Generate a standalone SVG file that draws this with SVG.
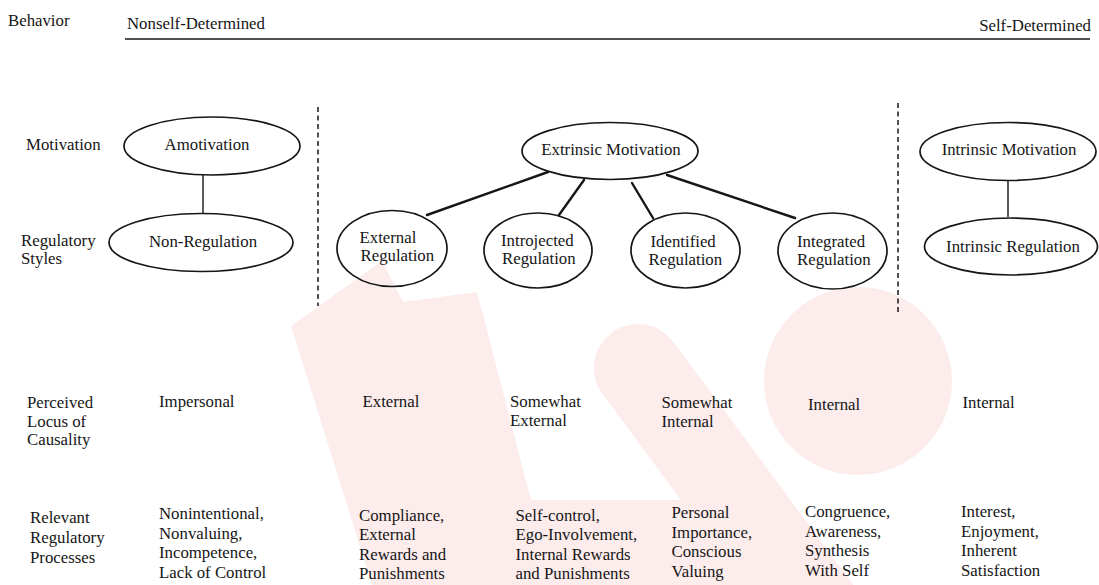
<svg xmlns="http://www.w3.org/2000/svg" width="1099" height="585" viewBox="0 0 1099 585" font-family="Liberation Serif, DejaVu Serif, serif">
  <style>
    text { font-family: 'Liberation Serif', 'DejaVu Serif', serif; font-size: 16.8px; fill: #161616; }
    .c { text-anchor: middle; }
    .e { text-anchor: end; }
    .node ellipse { fill: none; stroke: #161616; stroke-width: 1.7; }
    .stem { stroke: #161616; stroke-width: 1.4; }
    .branch { stroke: #161616; stroke-width: 2.4; stroke-linecap: round; }
    .divider { stroke: #161616; stroke-width: 1.5; stroke-dasharray: 5 3.5; }
    .axis { stroke: #161616; stroke-width: 1.6; }
    .wm { fill: #fdecec; }
  </style>

  <rect width="1099" height="585" fill="#ffffff"/>

  <!-- faint background mark -->
  <g id="backdrop">
    <path class="wm" d="M291,326 L382,261 L403,302 L477,292 L531,500 L705,500 L760,585 L372,585 Z"/>
    <line x1="638" y1="368" x2="823" y2="618" stroke="#fdecec" stroke-width="88" stroke-linecap="round"/>
    <circle class="wm" cx="858" cy="381" r="94"/>
  </g>

  <!-- header: behaviour continuum -->
  <g id="header">
    <text x="8" y="26">Behavior</text>
    <text x="127" y="29">Nonself-Determined</text>
    <text class="e" x="1091" y="30.5">Self-Determined</text>
    <line class="axis" x1="125" y1="39" x2="1090" y2="39"/>
  </g>

  <!-- row labels -->
  <g id="row-labels">
    <text x="26" y="150">Motivation</text>
    <text x="21" y="246">Regulatory<tspan x="21" dy="18">Styles</tspan></text>
    <text x="27" y="408">Perceived<tspan x="27" dy="18.5">Locus of</tspan><tspan x="27" dy="18.5">Causality</tspan></text>
    <text x="30" y="523">Relevant<tspan x="30" dy="20">Regulatory</tspan><tspan x="30" dy="20">Processes</tspan></text>
  </g>

  <!-- section dividers -->
  <g id="dividers">
    <line class="divider" x1="318" y1="107" x2="318" y2="306"/>
    <line class="divider" x1="898" y1="103" x2="898" y2="312"/>
  </g>

  <!-- connectors -->
  <g id="connectors">
    <line class="stem" x1="203" y1="175" x2="203" y2="213"/>
    <line class="stem" x1="1008" y1="180" x2="1008" y2="217"/>
    <line class="branch" x1="548" y1="172" x2="427" y2="215"/>
    <line class="branch" x1="584" y1="180" x2="559" y2="215"/>
    <line class="branch" x1="632" y1="183" x2="653" y2="218"/>
    <line class="branch" x1="667" y1="175" x2="795" y2="218"/>
  </g>

  <!-- nodes -->
  <g id="amotivation" class="node">
    <ellipse cx="212" cy="146" rx="88" ry="29"/>
    <text class="c" x="207" y="150">Amotivation</text>
  </g>
  <g id="non-regulation" class="node">
    <ellipse cx="201" cy="242.5" rx="92" ry="29"/>
    <text class="c" x="203" y="247">Non-Regulation</text>
  </g>
  <g id="extrinsic-motivation" class="node">
    <ellipse cx="610" cy="151" rx="88" ry="28.5"/>
    <text class="c" x="611" y="155">Extrinsic Motivation</text>
  </g>
  <g id="external-regulation" class="node">
    <ellipse cx="392" cy="248.5" rx="55" ry="38"/>
    <text x="359.5" y="243">External<tspan x="360.5" dy="18">Regulation</tspan></text>
  </g>
  <g id="introjected-regulation" class="node">
    <ellipse cx="538" cy="250.5" rx="54" ry="37.5"/>
    <text x="501" y="245.5">Introjected<tspan x="502" dy="18">Regulation</tspan></text>
  </g>
  <g id="identified-regulation" class="node">
    <ellipse cx="685.5" cy="250.5" rx="54.5" ry="37.5"/>
    <text x="650.5" y="246.5">Identified<tspan x="648.5" dy="18">Regulation</tspan></text>
  </g>
  <g id="integrated-regulation" class="node">
    <ellipse cx="832.5" cy="251" rx="54.5" ry="38"/>
    <text x="797" y="247">Integrated<tspan x="797" dy="18">Regulation</tspan></text>
  </g>
  <g id="intrinsic-motivation" class="node">
    <ellipse cx="1008" cy="151.5" rx="88" ry="29"/>
    <text class="c" x="1009" y="155">Intrinsic Motivation</text>
  </g>
  <g id="intrinsic-regulation" class="node">
    <ellipse cx="1011" cy="246.5" rx="86.5" ry="28.5"/>
    <text class="c" x="1013" y="252">Intrinsic Regulation</text>
  </g>

  <!-- perceived locus of causality -->
  <g id="locus">
    <text x="159" y="407">Impersonal</text>
    <text x="362.5" y="407">External</text>
    <text x="510" y="407">Somewhat<tspan x="510" dy="18.5">External</tspan></text>
    <text x="661.5" y="408">Somewhat<tspan x="661.5" dy="19">Internal</tspan></text>
    <text x="808" y="410">Internal</text>
    <text x="962.5" y="408">Internal</text>
  </g>

  <!-- relevant regulatory processes -->
  <g id="processes">
    <text x="159" y="519">Nonintentional,<tspan x="159" dy="19.5">Nonvaluing,</tspan><tspan x="159" dy="19.5">Incompetence,</tspan><tspan x="159" dy="19.5">Lack of Control</tspan></text>
    <text x="359" y="520.5">Compliance,<tspan x="359" dy="19.5">External</tspan><tspan x="359" dy="19.5">Rewards and</tspan><tspan x="359" dy="19.5">Punishments</tspan></text>
    <text x="515.5" y="520.5">Self-control,<tspan x="515.5" dy="19.5">Ego-Involvement,</tspan><tspan x="515.5" dy="19.5">Internal Rewards</tspan><tspan x="515.5" dy="19.5">and Punishments</tspan></text>
    <text x="671.5" y="518">Personal<tspan x="671.5" dy="19.5">Importance,</tspan><tspan x="671.5" dy="19.5">Conscious</tspan><tspan x="671.5" dy="19.5">Valuing</tspan></text>
    <text x="805" y="517">Congruence,<tspan x="805" dy="19.5">Awareness,</tspan><tspan x="805" dy="19.5">Synthesis</tspan><tspan x="805" dy="19.5">With Self</tspan></text>
    <text x="961" y="517">Interest,<tspan x="961" dy="19.5">Enjoyment,</tspan><tspan x="961" dy="19.5">Inherent</tspan><tspan x="961" dy="19.5">Satisfaction</tspan></text>
  </g>
</svg>
